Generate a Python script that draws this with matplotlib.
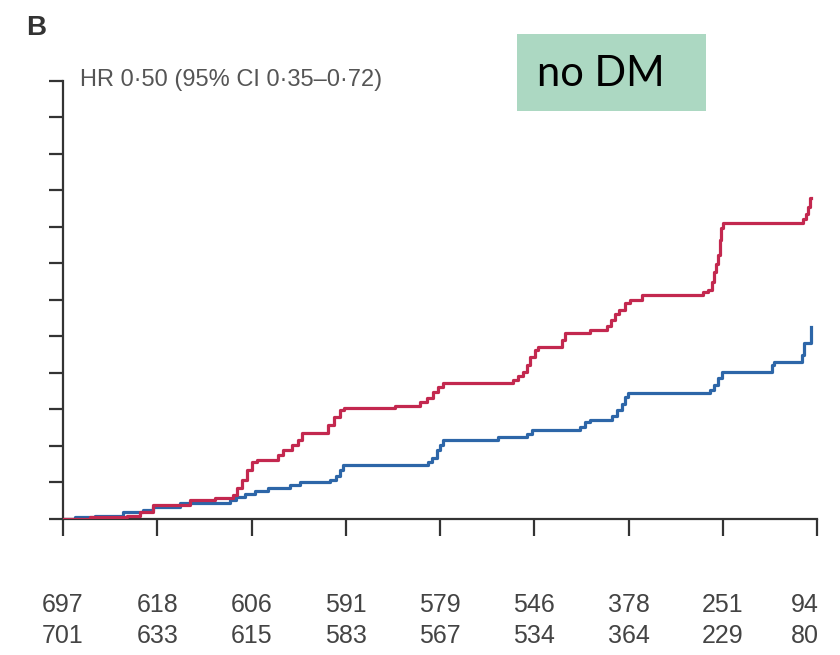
import matplotlib
matplotlib.use("Agg")
import matplotlib.pyplot as plt
from matplotlib.patches import Rectangle

# ---- data ----
red_t = [0.00, 0.29, 0.68, 0.82, 0.96, 1.35, 1.61, 1.80, 1.85, 1.90, 1.95, 2.01, 2.06,
         2.28, 2.33, 2.43, 2.49, 2.54, 2.81, 2.88, 2.94, 2.98, 3.52, 3.79, 3.86, 3.93,
         3.98, 4.03, 4.77, 4.83, 4.88, 4.92, 4.95, 5.01, 5.04, 5.29, 5.33, 5.59, 5.77,
         5.81, 5.86, 5.90, 5.96, 6.02, 6.14, 6.79, 6.84, 6.89, 6.91, 6.93, 6.95, 6.97,
         6.98, 7.00, 7.85, 7.88, 7.90, 7.93, 7.94]
red_y = [0.00, 0.05, 0.08, 0.19, 0.38, 0.52, 0.57, 0.66, 0.85, 1.07, 1.34, 1.56, 1.61,
         1.75, 1.89, 2.02, 2.16, 2.35, 2.57, 2.79, 2.98, 3.04, 3.09, 3.20, 3.31, 3.47,
         3.61, 3.72, 3.80, 3.91, 4.02, 4.21, 4.43, 4.62, 4.71, 4.90, 5.09, 5.17, 5.28,
         5.44, 5.61, 5.72, 5.91, 5.99, 6.13, 6.21, 6.27, 6.48, 6.76, 6.98, 7.22, 7.63,
         7.96, 8.10, 8.21, 8.34, 8.54, 8.78, 8.78]

blue_t = [0.00, 0.13, 0.34, 0.64, 0.85, 0.96, 1.24, 1.77, 1.84, 1.93, 2.04, 2.18, 2.41,
          2.51, 2.83, 2.90, 2.94, 2.97, 3.87, 3.92, 3.97, 4.00, 4.03, 4.62, 4.92, 4.98,
          5.49, 5.54, 5.59, 5.82, 5.88, 5.93, 5.96, 5.99, 6.86, 6.91, 6.95, 6.99, 7.52,
          7.54, 7.84, 7.86, 7.94]
blue_y = [0.00, 0.05, 0.08, 0.19, 0.25, 0.33, 0.44, 0.52, 0.60, 0.68, 0.77, 0.85, 0.93,
          1.01, 1.07, 1.18, 1.34, 1.48, 1.56, 1.67, 1.89, 2.02, 2.16, 2.24, 2.33, 2.44,
          2.52, 2.65, 2.71, 2.82, 2.98, 3.15, 3.34, 3.45, 3.53, 3.67, 3.86, 4.02, 4.21,
          4.30, 4.49, 4.82, 5.25]

risk_red = [697, 618, 606, 591, 579, 546, 378, 251, 94]
risk_blue = [701, 633, 615, 583, 567, 534, 364, 229, 80]
x_ticks = list(range(9))
y_ticks = list(range(13))

panel_label = "B"
hr_text = "HR 0\u00b750 (95% CI 0\u00b735\u20130\u00b772)"
box_text = "no DM"

# ---- style ----
RED = "#c3284f"
BLUE = "#2d66a8"
AXC = "#333333"
txtfam = ["Liberation Sans Narrow", "Liberation Sans", "DejaVu Sans"]

W, H = 840, 655
fig = plt.figure(figsize=(W / 100, H / 100), dpi=100)
ax = fig.add_axes([63 / W, 1 - 519 / H, (817 - 63) / W, (519 - 80.7) / H])

ax.step(red_t, red_y, where="post", color=RED, lw=2.3, zorder=3)
ax.step(blue_t, blue_y, where="post", color=BLUE, lw=2.3, zorder=2)

ax.set_xlim(0, 8)
ax.set_ylim(0, 12)
ax.set_xticks(x_ticks)
ax.set_yticks(y_ticks)
ax.set_xticklabels([])
ax.set_yticklabels([])
for s in ["top", "right"]:
    ax.spines[s].set_visible(False)
for s in ["left", "bottom"]:
    ax.spines[s].set_color(AXC)
    ax.spines[s].set_linewidth(1.6)
ax.tick_params(axis="both", direction="out", length=10, width=1.6, color=AXC)
ax.tick_params(axis="x", length=12)

# number at risk
for i, (r, b) in enumerate(zip(risk_red, risk_blue)):
    xf = ax.transData.transform((x_ticks[i], 0))[0] / W
    if i == len(risk_red) - 1:
        xf -= 12 / W
    fig.text(xf, 1 - 605 / H, str(r), ha="center", va="center",
             fontsize=18, color="#444444", family=txtfam)
    fig.text(xf, 1 - 636 / H, str(b), ha="center", va="center",
             fontsize=18, color="#444444", family=txtfam)

fig.text(26 / W, 1 - 28 / H, panel_label, ha="left", va="center",
         fontsize=20, fontweight="bold", color="#333333", family=txtfam)
fig.text(80 / W, 1 - 80 / H, hr_text, ha="left", va="center",
         fontsize=17, color="#555555", family=txtfam)

fig.patches.append(Rectangle((517 / W, 1 - 111 / H), (706 - 517) / W, (111 - 34) / H,
                             transform=fig.transFigure, facecolor="#acd8c2",
                             edgecolor="none", zorder=0))
fig.text(537 / W, 1 - 74 / H, box_text, ha="left", va="center",
         fontsize=30, color="black", family=["Lato", "DejaVu Sans"])

fig.savefig("out.png", dpi=100)
